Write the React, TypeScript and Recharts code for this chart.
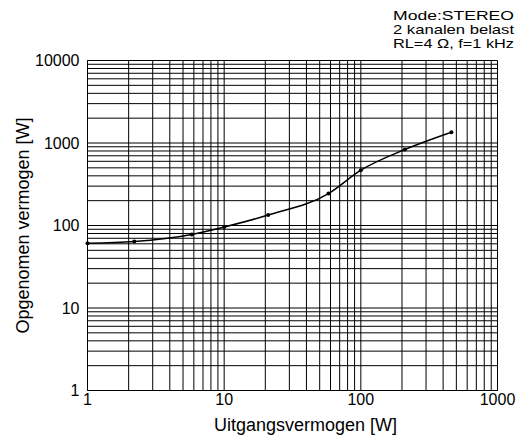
import { LineChart, Line, XAxis, YAxis, CartesianGrid, Label } from 'recharts';

// output power (W) vs. power drawn from mains (W), stereo, 2 channels driven
const outputPower = [1, 2.2, 5.8, 10, 21, 58, 100, 210, 460];
const inputPower = [61, 64, 78, 96, 134, 244, 468, 834, 1352];

const xTicks = [
  1, 2, 3, 4, 5, 6, 7, 8, 9,
  10, 20, 30, 40, 50, 60, 70, 80, 90,
  100, 200, 300, 400, 500, 600, 700, 800, 900,
  1000,
];
const yTicks = [
  1, 2, 3, 4, 5, 6, 7, 8, 9,
  10, 20, 30, 40, 50, 60, 70, 80, 90,
  100, 200, 300, 400, 500, 600, 700, 800, 900,
  1000, 2000, 3000, 4000, 5000, 6000, 7000, 8000, 9000,
  10000,
];
const xLabels = [1, 10, 100, 1000];
const yLabels = [1, 10, 100, 1000, 10000];

const noteLines = ['Mode:STEREO', '2 kanalen belast', 'RL=4 \u03a9, f=1 kHz'];

const data = outputPower.map((x, i) => ({ x, y: inputPower[i] }));

const FONT = '"Liberation Sans", Arial, Helvetica, sans-serif';

export default function App() {
  return (
    <div
      style={{
        position: 'absolute',
        left: 0,
        top: 0,
        width: 524,
        height: 437,
        background: '#fff',
        fontFamily: FONT,
      }}
    >
      <LineChart
        width={524}
        height={437}
        data={data}
        margin={{ top: 60.5, right: 26.5, bottom: 0, left: 0.5 }}
      >
        <CartesianGrid stroke="#000" strokeWidth={1} />
        <XAxis
          dataKey="x"
          type="number"
          scale="log"
          domain={[1, 1000]}
          ticks={xTicks}
          interval={0}
          tickFormatter={(v: number) => (xLabels.includes(v) ? String(v) : '')}
          tickLine={false}
          axisLine={{ stroke: '#000' }}
          tickSize={0}
          tickMargin={3}
          height={46.5}
          tick={{ fill: '#000', fontSize: 16 }}
        >
          <Label
            value="Uitgangsvermogen [W]"
            position="insideBottom"
            offset={6}
            dx={13}
            fill="#000"
            fontSize={18}
          />
        </XAxis>
        <YAxis
          type="number"
          scale="log"
          domain={[1, 10000]}
          ticks={yTicks}
          interval={0}
          tickFormatter={(v: number) => (yLabels.includes(v) ? String(v) : '')}
          tickLine={false}
          axisLine={{ stroke: '#000' }}
          tickSize={0}
          tickMargin={8}
          width={87}
          tick={{ fill: '#000', fontSize: 16 }}
        >
          <Label
            value="Opgenomen vermogen [W]"
            position="insideLeft"
            angle={-90}
            offset={22}
            fill="#000"
            fontSize={18}
            style={{ textAnchor: 'middle' }}
          />
        </YAxis>
        <Line
          dataKey="y"
          type="monotone"
          stroke="#000"
          strokeWidth={1.5}
          dot={{ r: 2, fill: '#000', stroke: '#000', strokeWidth: 0 }}
          isAnimationActive={false}
        />
      </LineChart>
      <svg
        width={524}
        height={60}
        style={{ position: 'absolute', left: 0, top: 0, pointerEvents: 'none' }}
      >
        {noteLines.map((line, i) => (
          <text
            key={line}
            x={393}
            y={20 + i * 14}
            fontSize={13}
            fill="#000"
            textLength={121}
            lengthAdjust="spacingAndGlyphs"
          >
            {line}
          </text>
        ))}
      </svg>
    </div>
  );
}
